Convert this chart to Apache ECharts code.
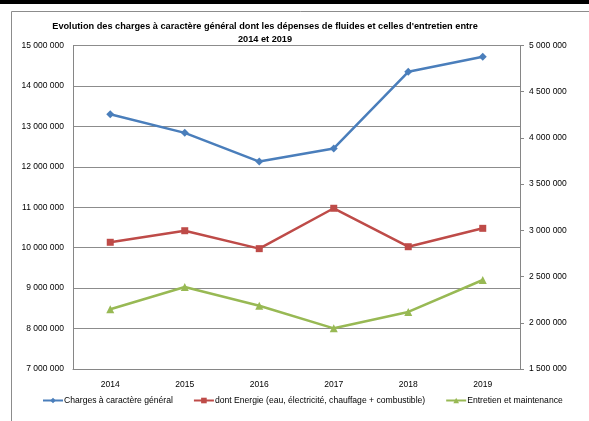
<!DOCTYPE html>
<html>
<head>
<meta charset="utf-8">
<script src="https://cdn.jsdelivr.net/npm/echarts@6/dist/echarts.min.js"></script>
<style>
html,body{margin:0;padding:0;background:#fff;}
#chart{width:589px;height:421px;}
</style>
</head>
<body>
<div id="chart"></div>
<script>
const titleText = "Evolution des charges à caractère général dont les dépenses de fluides et celles d'entretien entre\n2014 et 2019";
const years = ["2014", "2015", "2016", "2017", "2018", "2019"];
const seriesNames = [
  "Charges à caractère général",
  "dont Energie (eau, électricité, chauffage + combustible)",
  "Entretien et maintenance"
];
const chargesGenerales = [13300000, 12840000, 12130000, 12455000, 14350000, 14720000];
const energie = [2871000, 2996000, 2802000, 3239000, 2823000, 3022000];
const entretien = [2146000, 2387000, 2185000, 1940000, 2117000, 2463000];

const FONT = "'Liberation Sans', Arial, sans-serif";
function fmt(v){ return String(Math.round(v)).replace(/\B(?=(\d{3})+(?!\d))/g, " "); }

const chart = echarts.init(document.getElementById('chart'), null, {renderer: 'canvas'});
chart.setOption({
  animation: false,
  backgroundColor: '#fff',
  textStyle: {fontFamily: FONT},
  graphic: [
    {type: 'rect', shape: {x: 0, y: 0, width: 589, height: 4}, style: {fill: '#000'}, z: 100},
    {type: 'rect', shape: {x: 11.5, y: 11.5, width: 700, height: 600}, style: {fill: 'none', stroke: '#8c8c8c', lineWidth: 1}, z: 100}
  ],
  title: {
    text: titleText,
    left: 260, top: 15, textAlign: 'center',
    textStyle: {fontFamily: FONT, fontWeight: 'bold', fontSize: 9.2, color: '#000', lineHeight: 13}
  },
  legend: {
    left: 37, top: 391,
    itemWidth: 20, itemHeight: 7, itemGap: 20,
    textStyle: {fontFamily: FONT, fontSize: 8.6, color: '#000', padding: [0, 0, 0, -4]},
    data: seriesNames
  },
  grid: {left: 73, right: 69, top: 45.5, bottom: 52, containLabel: false},
  xAxis: {
    type: 'category', data: years, boundaryGap: true,
    axisLine: {lineStyle: {color: '#868686', width: 1}},
    axisTick: {show: false},
    axisLabel: {fontFamily: FONT, fontSize: 8.5, color: '#000', margin: 11}
  },
  yAxis: [
    {
      type: 'value', min: 7000000, max: 15000000, interval: 1000000, position: 'left',
      axisLine: {show: true, lineStyle: {color: '#868686'}},
      axisTick: {show: false},
      splitLine: {lineStyle: {color: '#8c8c8c', width: 1}},
      axisLabel: {fontFamily: FONT, fontSize: 8.5, color: '#000', margin: 9, formatter: fmt}
    },
    {
      type: 'value', min: 1500000, max: 5000000, interval: 500000, position: 'right',
      axisLine: {show: true, lineStyle: {color: '#868686'}},
      axisTick: {show: true, inside: false, length: 4, lineStyle: {color: '#868686'}},
      splitLine: {show: false},
      axisLabel: {fontFamily: FONT, fontSize: 8.5, color: '#000', margin: 9, formatter: fmt}
    }
  ],
  series: [
    {name: seriesNames[0], type: 'line', yAxisIndex: 0, data: chargesGenerales,
     symbol: 'diamond', symbolSize: 8, color: '#4a7ebb', lineStyle: {width: 2.5, color: '#4a7ebb'}, itemStyle: {color: '#4a7ebb'}},
    {name: seriesNames[1], type: 'line', yAxisIndex: 1, data: energie,
     symbol: 'rect', symbolSize: 7, color: '#be4b48', lineStyle: {width: 2.5, color: '#be4b48'}, itemStyle: {color: '#be4b48'}},
    {name: seriesNames[2], type: 'line', yAxisIndex: 1, data: entretien,
     symbol: 'triangle', symbolSize: 8, color: '#98b954', lineStyle: {width: 2.5, color: '#98b954'}, itemStyle: {color: '#98b954'}}
  ]
});
</script>
</body>
</html>
